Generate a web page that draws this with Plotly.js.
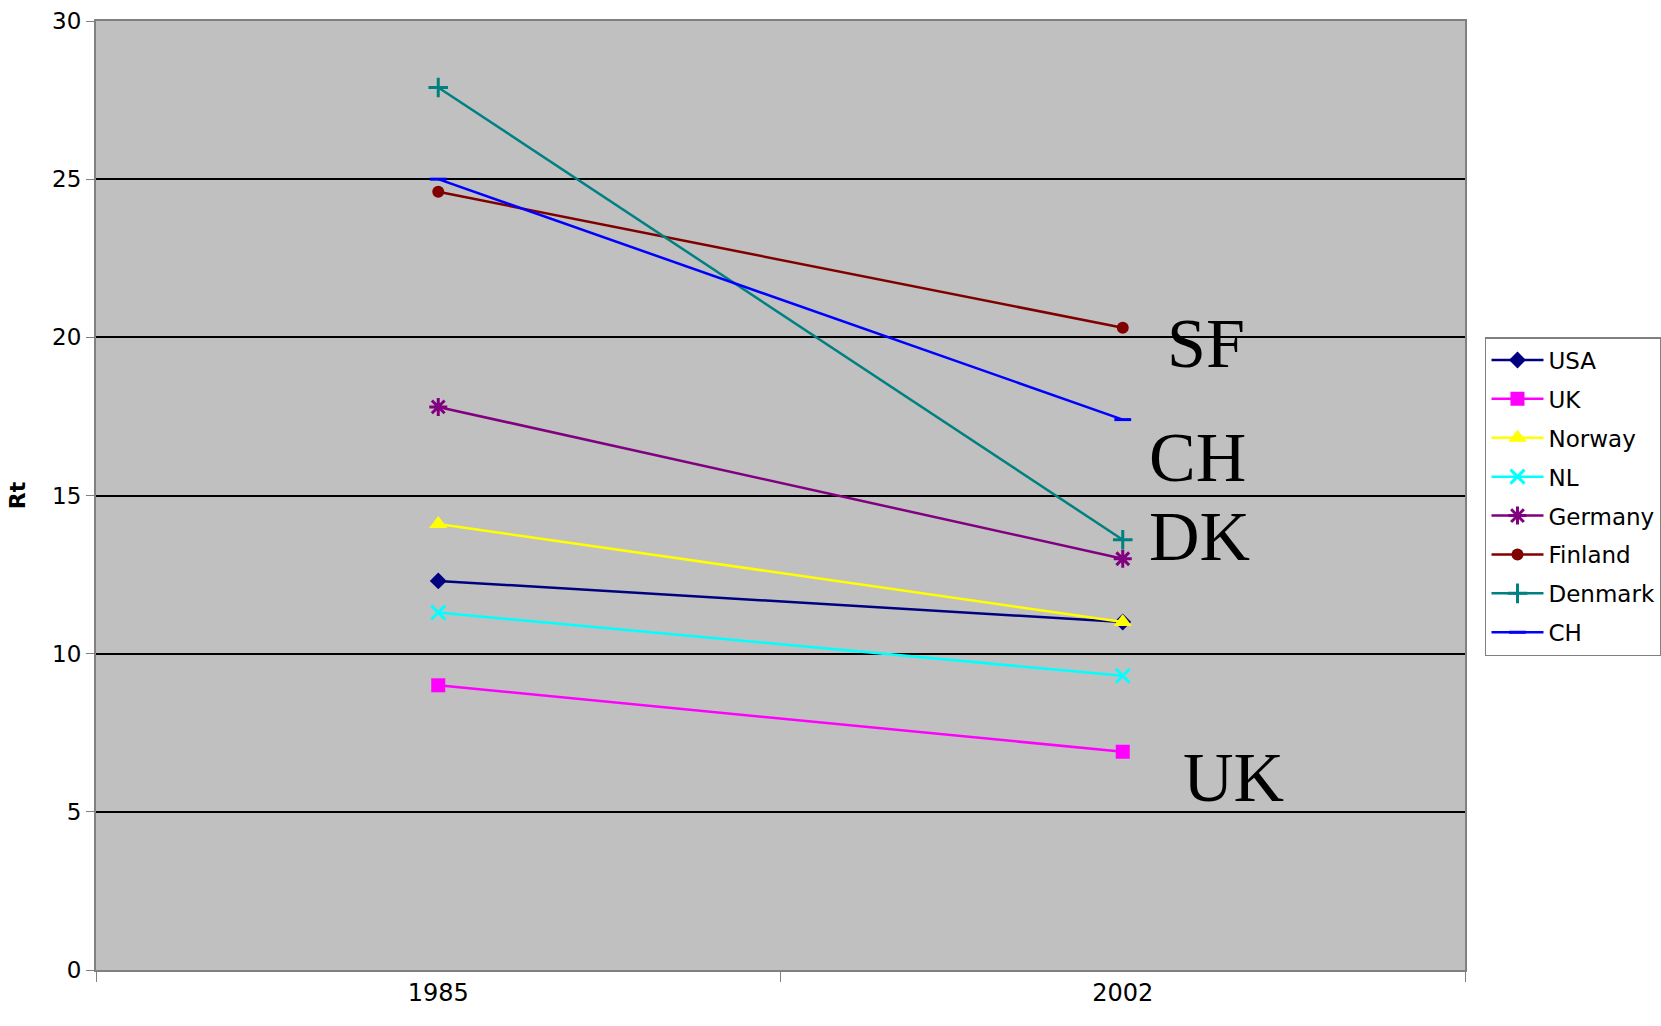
<!DOCTYPE html>
<html>
<head>
<meta charset="utf-8">
<script src="https://cdn.plot.ly/plotly-3.0.1.min.js"></script>
<style>html,body{margin:0;padding:0;background:#fff;overflow:hidden}</style>
</head>
<body>
<div id="chart" style="width:1661px;height:1026px"></div>
<script>
const years = ["1985", "2002"];
const countries = ["USA", "UK", "Norway", "NL", "Germany", "Finland", "Denmark", "CH"];
const USA = [12.3, 11.0];
const UK = [9.0, 6.9];
const Norway = [14.1, 11.0];
const NL = [11.3, 9.3];
const Germany = [17.8, 13.0];
const Finland = [24.6, 20.3];
const Denmark = [27.9, 13.6];
const CH = [25.0, 17.4];
const labels = ["SF", "CH", "DK", "UK"];
const labelY = [19.8, 16.2, 13.7, 6.1];
const labelX = [1.062, 1.036, 1.036, 1.085];

const seriesValues = [USA, UK, Norway, NL, Germany, Finland, Denmark, CH];
const colors = ["#000080", "#ff00ff", "#ffff00", "#00ffff", "#800080", "#800000", "#008080", "#0000ff"];
const symbols = ["diamond", "square", "triangle-up", "x-thin", "asterisk", "circle", "cross-thin", "line-ew"];
const sizes = [13, 14, 16, 14, 15, 12, 14, 12];

const traces = countries.map((c, i) => ({
  type: "scatter",
  mode: "lines+markers",
  name: c,
  x: years,
  y: seriesValues[i],
  legendgroup: c,
  line: {color: colors[i], width: 2.5},
  marker: {
    symbol: symbols[i], size: sizes[i], color: colors[i],
    line: {color: colors[i], width: (symbols[i].indexOf("thin") >= 0 || symbols[i] === "asterisk" || symbols[i] === "line-ew") ? 3 : 0}
  }
}));

const annotations = labels.map((t, i) => ({
  x: labelX[i], y: labelY[i], xref: "x", yref: "y",
  text: t, showarrow: false, xanchor: "left", yanchor: "middle",
  font: {family: "Liberation Serif, Times New Roman, serif", size: 70, color: "#000"}
}));

const layout = {
  width: 1661, height: 1026,
  margin: {l: 96, r: 196, t: 21, b: 56, autoexpand: false},
  paper_bgcolor: "#ffffff",
  plot_bgcolor: "#c0c0c0",
  font: {family: "DejaVu Sans, Verdana, sans-serif", color: "#000"},
  showlegend: true,
  legend: {
    x: 1.0146, y: 0.667, xanchor: "left", yanchor: "top",
    bgcolor: "#ffffff", bordercolor: "#808080", borderwidth: 1.5,
    font: {family: "DejaVu Sans, Verdana, sans-serif", size: 23, color: "#000"},
    traceorder: "grouped", tracegroupgap: 6, itemwidth: 52
  },
  xaxis: {
    type: "category", range: [-0.5, 1.5],
    showgrid: false, zeroline: false,
    showline: true, linecolor: "#808080", linewidth: 2, mirror: true,
    ticks: "outside", tickson: "boundaries", ticklen: 10, tickcolor: "#808080",
    tickfont: {family: "DejaVu Sans, Verdana, sans-serif", size: 24, color: "#000"}
  },
  yaxis: {
    range: [0, 30], dtick: 5, tick0: 0,
    showgrid: true, gridcolor: "#000000", gridwidth: 2,
    zeroline: false,
    showline: true, linecolor: "#808080", linewidth: 2, mirror: true,
    ticks: "outside", ticklen: 8, tickcolor: "#808080",
    tickfont: {family: "DejaVu Sans, Verdana, sans-serif", size: 23, color: "#000"},
    title: {text: "<b>Rt</b>", font: {family: "DejaVu Sans, Verdana, sans-serif", size: 22, color: "#000"}, standoff: 20}
  },
  annotations: annotations
};

Plotly.newPlot("chart", traces, layout, {displayModeBar: false, staticPlot: true});
</script>
</body>
</html>
